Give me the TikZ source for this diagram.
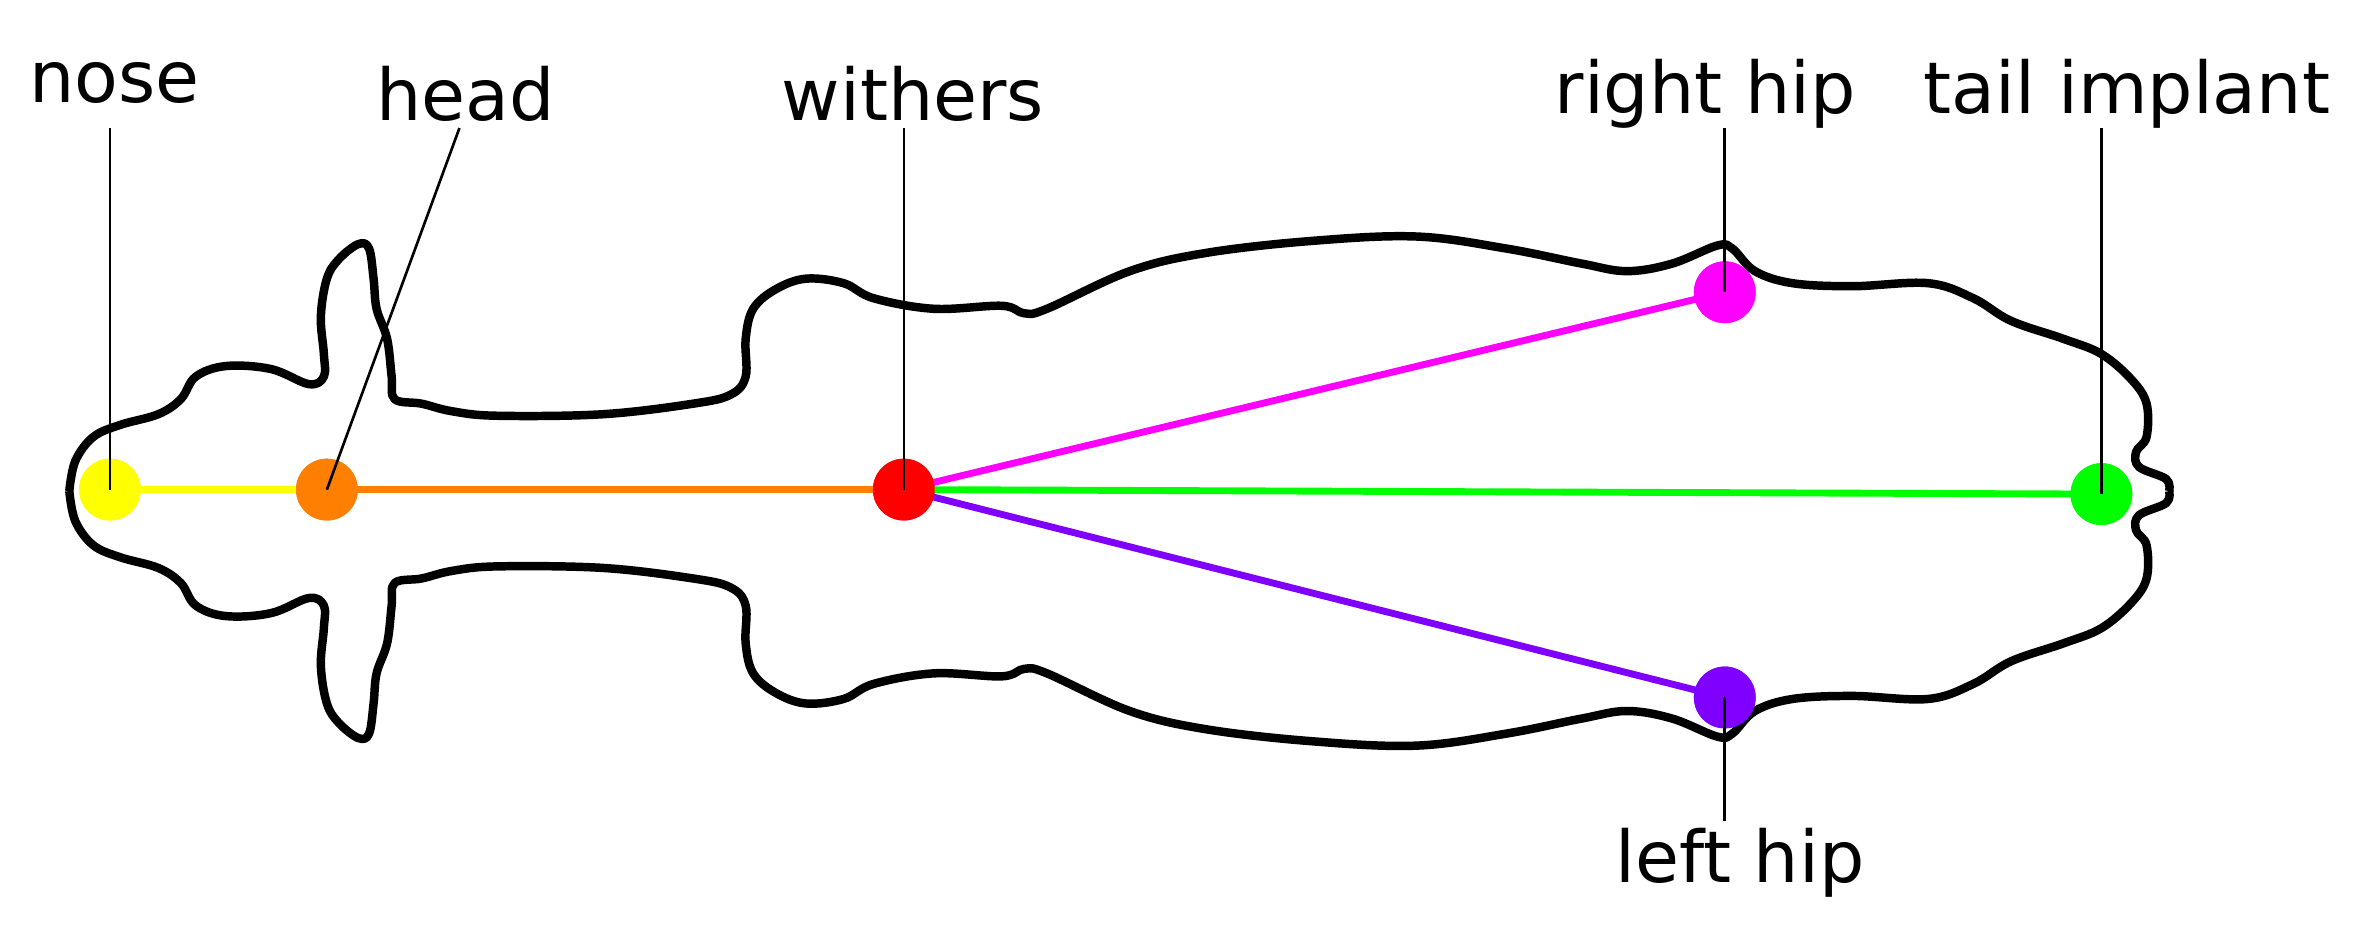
\documentclass[tikz,border=0pt]{standalone}
\usepackage{fontspec}
\setmainfont{DejaVu Sans}
\definecolor{corange}{RGB}{255,128,0}
\definecolor{cviolet}{RGB}{128,0,255}
\definecolor{cmag}{RGB}{255,0,255}
\definecolor{cyel}{RGB}{255,255,0}
\definecolor{cgreen}{RGB}{0,255,0}
\definecolor{cred}{RGB}{255,0,0}
\begin{document}
\begin{tikzpicture}[x=0.1mm,y=-0.1mm,
  dot/.style={circle,inner sep=0pt,minimum size=4.1mm},
  lab/.style={font=\fontsize{13.5}{16}\selectfont,inner sep=0pt},
  lead/.style={line width=0.5pt},
  seg/.style={line width=1.3pt},
  outline/.style={line width=1.6pt,line join=round}]
\useasboundingbox (0,0) rectangle (1568,620);
\def\half{(46,0) (50,-20) (62,-36) (80,-44) (105,-51) (120,-61) (130,-76) (150,-83) (180,-81) (205,-71) (215,-76) (215,-91) (213,-116) (217,-141) (225,-154) (238,-164) (245,-161) (248,-141) (250,-121) (257,-101) (260,-76) (262,-61) (280,-58) (300,-53) (330,-50) (400,-51) (460,-58) (485,-64) (495,-76) (495,-101) (500,-121) (515,-134) (535,-141) (560,-138) (580,-128) (620,-121) (665,-123) (680,-118) (695,-121) (750,-146) (800,-158) (870,-166) (940,-169) (1000,-161) (1050,-151) (1080,-146) (1110,-151) (1140,-163) (1150,-161) (1165,-146) (1190,-138) (1230,-136) (1280,-138) (1310,-128) (1335,-113) (1370,-101) (1395,-91) (1415,-74) (1425,-58) (1425,-36) (1418,-26) (1420,-16) (1438,-8) (1440,0)}
\begin{scope}[yshift=-32.6mm]
\draw[outline] plot[smooth,tension=0.6] coordinates {\half};
\end{scope}
\begin{scope}[yshift=-32.6mm,yscale=-1]
\draw[outline] plot[smooth,tension=0.6] coordinates {\half};
\end{scope}
\node[dot,fill=cyel] (nose) at (73,325) {};
\node[dot,fill=corange] (head) at (217,325) {};
\node[dot,fill=cred] (withers) at (600,325) {};
\node[dot,fill=cmag] (rhip) at (1145,194) {};
\node[dot,fill=cviolet] (lhip) at (1145,463) {};
\node[dot,fill=cgreen] (tail) at (1395,328) {};
\draw[seg,cyel] (nose.center) -- (head.center);
\draw[seg,corange] (head.center) -- (withers.center);
\draw[seg,cmag] (withers.center) -- (rhip.center);
\draw[seg,cviolet] (withers.center) -- (lhip.center);
\draw[seg,cgreen] (withers.center) -- (tail.center);
\node[dot,fill=cyel] at (nose) {};
\node[dot,fill=corange] at (head) {};
\node[dot,fill=cred] at (withers) {};
\node[dot,fill=cmag] at (rhip) {};
\node[dot,fill=cviolet] at (lhip) {};
\node[dot,fill=cgreen] at (tail) {};
\node[lab] (lnose) at (76,55) {nose};
\node[lab] (lhead) at (309,62) {head};
\node[lab] (lwith) at (606,62) {withers};
\node[lab] (lrh) at (1132,62) {right hip};
\node[lab] (ltail) at (1412,62) {tail implant};
\node[lab] (llh) at (1155,573) {left hip};
\coordinate (a1) at (73,85); \coordinate (a2) at (305,85); \coordinate (a3) at (600,85);
\coordinate (a4) at (1145,85); \coordinate (a5) at (1395,85); \coordinate (a6) at (1145,545);
\draw[lead] (a1) -- (nose.center);
\draw[lead] (a2) -- (head.center);
\draw[lead] (a3) -- (withers.center);
\draw[lead] (a4) -- (rhip.center);
\draw[lead] (a5) -- (tail.center);
\draw[lead] (a6) -- (lhip.center);
\end{tikzpicture}
\end{document}
